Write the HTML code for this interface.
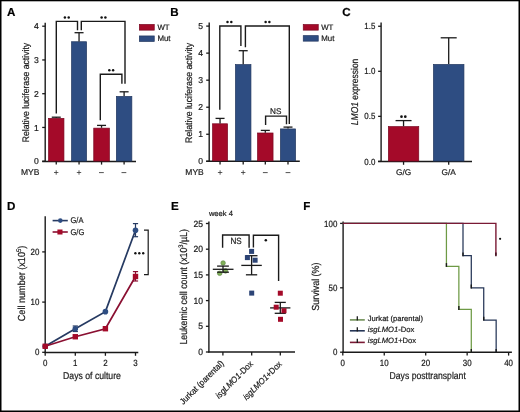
<!DOCTYPE html>
<html><head><meta charset="utf-8"><style>
html,body{margin:0;padding:0;background:#fff;width:520px;height:412px;overflow:hidden}
svg{display:block;will-change:transform}
text{font-family:"Liberation Sans",sans-serif;fill:#1a1a1a;stroke:#1a1a1a;stroke-width:0.2px;text-rendering:geometricPrecision}
</style></head><body>
<svg width="520" height="412" viewBox="0 0 520 412">
<rect width="520" height="412" fill="#fff"/>
<rect x="0.00" y="0.00" width="1.50" height="412.00" fill="#000"/>
<rect x="0.00" y="0.00" width="520.00" height="1.30" fill="#000"/>
<rect x="518.50" y="0.00" width="1.50" height="412.00" fill="#000"/>
<rect x="0.00" y="410.50" width="520.00" height="1.50" fill="#000"/>
<text x="7.10" y="15.60" font-size="11.6" text-anchor="start" font-weight="bold" style="fill:#000;stroke:#000">A</text>
<text x="170.30" y="15.60" font-size="11.6" text-anchor="start" font-weight="bold" style="fill:#000;stroke:#000">B</text>
<text x="342.30" y="15.60" font-size="11.6" text-anchor="start" font-weight="bold" style="fill:#000;stroke:#000">C</text>
<text x="7.10" y="210.30" font-size="11.6" text-anchor="start" font-weight="bold" style="fill:#000;stroke:#000">D</text>
<text x="171.00" y="210.30" font-size="11.6" text-anchor="start" font-weight="bold" style="fill:#000;stroke:#000">E</text>
<text x="303.30" y="210.30" font-size="11.6" text-anchor="start" font-weight="bold" style="fill:#000;stroke:#000">F</text>
<line x1="45.20" y1="22.80" x2="45.20" y2="162.00" stroke="#1a1a1a" stroke-width="1.4"/>
<line x1="42.20" y1="161.20" x2="45.20" y2="161.20" stroke="#1a1a1a" stroke-width="1.3"/>
<text x="38.90" y="164.30" font-size="8.6" text-anchor="end" >0</text>
<line x1="42.20" y1="127.45" x2="45.20" y2="127.45" stroke="#1a1a1a" stroke-width="1.3"/>
<text x="38.90" y="130.55" font-size="8.6" text-anchor="end" >1</text>
<line x1="42.20" y1="93.70" x2="45.20" y2="93.70" stroke="#1a1a1a" stroke-width="1.3"/>
<text x="38.90" y="96.80" font-size="8.6" text-anchor="end" >2</text>
<line x1="42.20" y1="59.95" x2="45.20" y2="59.95" stroke="#1a1a1a" stroke-width="1.3"/>
<text x="38.90" y="63.05" font-size="8.6" text-anchor="end" >3</text>
<line x1="42.20" y1="26.20" x2="45.20" y2="26.20" stroke="#1a1a1a" stroke-width="1.3"/>
<text x="38.90" y="29.30" font-size="8.6" text-anchor="end" >4</text>
<line x1="42.20" y1="161.40" x2="136.00" y2="161.40" stroke="#1a1a1a" stroke-width="1.5"/>
<rect x="48.55" y="118.35" width="15.40" height="42.70" fill="#a40a29" stroke="#7a0822" stroke-width="0.7"/>
<line x1="56.25" y1="117.20" x2="56.25" y2="118.00" stroke="#1a1a1a" stroke-width="1.3"/>
<line x1="51.75" y1="117.20" x2="60.75" y2="117.20" stroke="#1a1a1a" stroke-width="1.3"/>
<line x1="56.25" y1="161.40" x2="56.25" y2="164.60" stroke="#1a1a1a" stroke-width="1.3"/>
<rect x="71.55" y="41.74" width="15.00" height="119.31" fill="#2e4d82" stroke="#22375f" stroke-width="0.7"/>
<line x1="79.05" y1="32.70" x2="79.05" y2="41.39" stroke="#1a1a1a" stroke-width="1.3"/>
<line x1="74.55" y1="32.70" x2="83.55" y2="32.70" stroke="#1a1a1a" stroke-width="1.3"/>
<line x1="79.05" y1="161.40" x2="79.05" y2="164.60" stroke="#1a1a1a" stroke-width="1.3"/>
<rect x="93.75" y="128.14" width="15.60" height="32.91" fill="#a40a29" stroke="#7a0822" stroke-width="0.7"/>
<line x1="101.55" y1="125.40" x2="101.55" y2="127.79" stroke="#1a1a1a" stroke-width="1.3"/>
<line x1="97.05" y1="125.40" x2="106.05" y2="125.40" stroke="#1a1a1a" stroke-width="1.3"/>
<line x1="101.55" y1="161.40" x2="101.55" y2="164.60" stroke="#1a1a1a" stroke-width="1.3"/>
<rect x="116.35" y="96.41" width="15.50" height="64.64" fill="#2e4d82" stroke="#22375f" stroke-width="0.7"/>
<line x1="124.10" y1="91.80" x2="124.10" y2="96.06" stroke="#1a1a1a" stroke-width="1.3"/>
<line x1="119.60" y1="91.80" x2="128.60" y2="91.80" stroke="#1a1a1a" stroke-width="1.3"/>
<line x1="124.10" y1="161.40" x2="124.10" y2="164.60" stroke="#1a1a1a" stroke-width="1.3"/>
<polyline points="56.30,113.50 56.30,21.40 77.50,21.40 77.50,30.20" fill="none" stroke="#1a1a1a" stroke-width="1.4"/>
<polyline points="81.30,30.20 81.30,21.40 125.00,21.40 125.00,83.80" fill="none" stroke="#1a1a1a" stroke-width="1.4"/>
<polyline points="100.30,120.30 100.30,74.20 121.90,74.20 121.90,83.80" fill="none" stroke="#1a1a1a" stroke-width="1.4"/>
<circle cx="64.90" cy="17.4" r="1.25" fill="#111"/>
<circle cx="68.70" cy="17.4" r="1.25" fill="#111"/>
<circle cx="101.60" cy="17.4" r="1.25" fill="#111"/>
<circle cx="105.40" cy="17.4" r="1.25" fill="#111"/>
<circle cx="109.30" cy="70.2" r="1.25" fill="#111"/>
<circle cx="113.10" cy="70.2" r="1.25" fill="#111"/>
<text font-size="9.5" text-anchor="middle" transform="translate(28.7 92.6) rotate(-90)" textLength="99.5" lengthAdjust="spacingAndGlyphs">Relative luciferase activity</text>
<text x="21.00" y="175.00" font-size="8.5" text-anchor="start" >MYB</text>
<line x1="54.00" y1="172.50" x2="58.40" y2="172.50" stroke="#333" stroke-width="0.8"/>
<line x1="56.20" y1="170.30" x2="56.20" y2="174.70" stroke="#333" stroke-width="0.8"/>
<line x1="76.80" y1="172.50" x2="81.20" y2="172.50" stroke="#333" stroke-width="0.8"/>
<line x1="79.00" y1="170.30" x2="79.00" y2="174.70" stroke="#333" stroke-width="0.8"/>
<line x1="99.00" y1="172.60" x2="103.80" y2="172.60" stroke="#333" stroke-width="0.85"/>
<line x1="121.50" y1="172.60" x2="126.30" y2="172.60" stroke="#333" stroke-width="0.85"/>
<rect x="139.35" y="24.45" width="14.90" height="5.70" fill="#a40a29" stroke="#7a0822" stroke-width="0.7"/>
<rect x="139.35" y="35.95" width="14.90" height="5.50" fill="#2e4d82" stroke="#22375f" stroke-width="0.7"/>
<text x="157.40" y="29.90" font-size="7.8" text-anchor="start" >WT</text>
<text x="157.40" y="41.10" font-size="7.9" text-anchor="start" >Mut</text>
<line x1="209.20" y1="22.50" x2="209.20" y2="161.90" stroke="#1a1a1a" stroke-width="1.4"/>
<line x1="206.20" y1="161.30" x2="209.20" y2="161.30" stroke="#1a1a1a" stroke-width="1.3"/>
<text x="203.00" y="164.40" font-size="8.6" text-anchor="end" >0</text>
<line x1="206.20" y1="134.26" x2="209.20" y2="134.26" stroke="#1a1a1a" stroke-width="1.3"/>
<text x="203.00" y="137.36" font-size="8.6" text-anchor="end" >1</text>
<line x1="206.20" y1="107.22" x2="209.20" y2="107.22" stroke="#1a1a1a" stroke-width="1.3"/>
<text x="203.00" y="110.32" font-size="8.6" text-anchor="end" >2</text>
<line x1="206.20" y1="80.18" x2="209.20" y2="80.18" stroke="#1a1a1a" stroke-width="1.3"/>
<text x="203.00" y="83.28" font-size="8.6" text-anchor="end" >3</text>
<line x1="206.20" y1="53.14" x2="209.20" y2="53.14" stroke="#1a1a1a" stroke-width="1.3"/>
<text x="203.00" y="56.24" font-size="8.6" text-anchor="end" >4</text>
<line x1="206.20" y1="26.10" x2="209.20" y2="26.10" stroke="#1a1a1a" stroke-width="1.3"/>
<text x="203.00" y="29.20" font-size="8.6" text-anchor="end" >5</text>
<line x1="206.20" y1="161.30" x2="299.80" y2="161.30" stroke="#1a1a1a" stroke-width="1.5"/>
<rect x="212.55" y="123.79" width="15.00" height="37.06" fill="#a40a29" stroke="#7a0822" stroke-width="0.7"/>
<line x1="220.05" y1="118.40" x2="220.05" y2="123.44" stroke="#1a1a1a" stroke-width="1.3"/>
<line x1="215.55" y1="118.40" x2="224.55" y2="118.40" stroke="#1a1a1a" stroke-width="1.3"/>
<line x1="220.05" y1="161.20" x2="220.05" y2="164.50" stroke="#1a1a1a" stroke-width="1.3"/>
<rect x="235.45" y="64.58" width="15.50" height="96.27" fill="#2e4d82" stroke="#22375f" stroke-width="0.7"/>
<line x1="243.20" y1="50.70" x2="243.20" y2="64.23" stroke="#1a1a1a" stroke-width="1.3"/>
<line x1="238.70" y1="50.70" x2="247.70" y2="50.70" stroke="#1a1a1a" stroke-width="1.3"/>
<line x1="243.20" y1="161.20" x2="243.20" y2="164.50" stroke="#1a1a1a" stroke-width="1.3"/>
<rect x="257.55" y="132.99" width="15.50" height="27.86" fill="#a40a29" stroke="#7a0822" stroke-width="0.7"/>
<line x1="265.30" y1="130.40" x2="265.30" y2="132.64" stroke="#1a1a1a" stroke-width="1.3"/>
<line x1="260.80" y1="130.40" x2="269.80" y2="130.40" stroke="#1a1a1a" stroke-width="1.3"/>
<line x1="265.30" y1="161.20" x2="265.30" y2="164.50" stroke="#1a1a1a" stroke-width="1.3"/>
<rect x="280.45" y="128.93" width="15.10" height="31.92" fill="#2e4d82" stroke="#22375f" stroke-width="0.7"/>
<line x1="288.00" y1="127.10" x2="288.00" y2="128.58" stroke="#1a1a1a" stroke-width="1.3"/>
<line x1="283.50" y1="127.10" x2="292.50" y2="127.10" stroke="#1a1a1a" stroke-width="1.3"/>
<line x1="288.00" y1="161.20" x2="288.00" y2="164.50" stroke="#1a1a1a" stroke-width="1.3"/>
<polyline points="219.80,109.70 219.80,26.00 240.90,26.00 240.90,46.00" fill="none" stroke="#1a1a1a" stroke-width="1.4"/>
<polyline points="245.40,47.20 245.40,26.00 289.30,26.00 289.30,123.90" fill="none" stroke="#1a1a1a" stroke-width="1.4"/>
<polyline points="265.60,125.00 265.60,116.10 286.50,116.10 286.50,124.20" fill="none" stroke="#1a1a1a" stroke-width="1.4"/>
<circle cx="227.50" cy="22.1" r="1.25" fill="#111"/>
<circle cx="231.30" cy="22.1" r="1.25" fill="#111"/>
<circle cx="265.60" cy="22.1" r="1.25" fill="#111"/>
<circle cx="269.40" cy="22.1" r="1.25" fill="#111"/>
<text x="275.80" y="113.70" font-size="8.2" text-anchor="middle" >NS</text>
<text font-size="9.5" text-anchor="middle" transform="translate(192.1 92.9) rotate(-90)" textLength="100" lengthAdjust="spacingAndGlyphs">Relative luciferase activity</text>
<text x="185.30" y="175.20" font-size="8.5" text-anchor="start" >MYB</text>
<line x1="217.90" y1="172.50" x2="222.30" y2="172.50" stroke="#333" stroke-width="0.8"/>
<line x1="220.10" y1="170.30" x2="220.10" y2="174.70" stroke="#333" stroke-width="0.8"/>
<line x1="241.00" y1="172.50" x2="245.40" y2="172.50" stroke="#333" stroke-width="0.8"/>
<line x1="243.20" y1="170.30" x2="243.20" y2="174.70" stroke="#333" stroke-width="0.8"/>
<line x1="262.90" y1="172.60" x2="267.70" y2="172.60" stroke="#333" stroke-width="0.85"/>
<line x1="285.60" y1="172.60" x2="290.40" y2="172.60" stroke="#333" stroke-width="0.85"/>
<rect x="303.25" y="24.55" width="15.00" height="5.60" fill="#a40a29" stroke="#7a0822" stroke-width="0.7"/>
<rect x="303.25" y="35.65" width="15.00" height="5.50" fill="#2e4d82" stroke="#22375f" stroke-width="0.7"/>
<text x="321.20" y="29.90" font-size="7.8" text-anchor="start" >WT</text>
<text x="321.20" y="41.10" font-size="7.9" text-anchor="start" >Mut</text>
<line x1="381.10" y1="22.50" x2="381.10" y2="162.00" stroke="#1a1a1a" stroke-width="1.4"/>
<line x1="378.10" y1="161.40" x2="381.10" y2="161.40" stroke="#1a1a1a" stroke-width="1.3"/>
<text transform="translate(375.30 164.50) scale(0.9 1)" font-size="8.8" text-anchor="end" >0.0</text>
<line x1="378.10" y1="116.35" x2="381.10" y2="116.35" stroke="#1a1a1a" stroke-width="1.3"/>
<text transform="translate(375.30 119.45) scale(0.9 1)" font-size="8.8" text-anchor="end" >0.5</text>
<line x1="378.10" y1="71.30" x2="381.10" y2="71.30" stroke="#1a1a1a" stroke-width="1.3"/>
<text transform="translate(375.30 74.40) scale(0.9 1)" font-size="8.8" text-anchor="end" >1.0</text>
<line x1="378.10" y1="26.25" x2="381.10" y2="26.25" stroke="#1a1a1a" stroke-width="1.3"/>
<text transform="translate(375.30 29.35) scale(0.9 1)" font-size="8.8" text-anchor="end" >1.5</text>
<line x1="378.10" y1="161.40" x2="472.00" y2="161.40" stroke="#1a1a1a" stroke-width="1.5"/>
<rect x="388.35" y="126.61" width="30.40" height="34.44" fill="#a40a29" stroke="#7a0822" stroke-width="0.7"/>
<line x1="403.55" y1="120.60" x2="403.55" y2="126.26" stroke="#1a1a1a" stroke-width="1.3"/>
<line x1="395.55" y1="120.60" x2="411.55" y2="120.60" stroke="#1a1a1a" stroke-width="1.3"/>
<line x1="403.55" y1="161.40" x2="403.55" y2="164.80" stroke="#1a1a1a" stroke-width="1.3"/>
<rect x="433.45" y="64.44" width="30.50" height="96.61" fill="#2e4d82" stroke="#22375f" stroke-width="0.7"/>
<line x1="448.70" y1="37.80" x2="448.70" y2="64.09" stroke="#1a1a1a" stroke-width="1.3"/>
<line x1="440.70" y1="37.80" x2="456.70" y2="37.80" stroke="#1a1a1a" stroke-width="1.3"/>
<line x1="448.70" y1="161.40" x2="448.70" y2="164.80" stroke="#1a1a1a" stroke-width="1.3"/>
<circle cx="401.50" cy="116.7" r="1.35" fill="#111"/>
<circle cx="405.30" cy="116.7" r="1.35" fill="#111"/>
<text x="403.70" y="174.70" font-size="8.3" text-anchor="middle" >G/G</text>
<text x="448.70" y="174.70" font-size="8.3" text-anchor="middle" >G/A</text>
<text font-size="9.8" text-anchor="middle" transform="translate(357.9 91.9) rotate(-90)" textLength="66.5" lengthAdjust="spacingAndGlyphs"><tspan font-style="italic">LMO1</tspan> expression</text>
<line x1="45.20" y1="216.20" x2="45.20" y2="352.90" stroke="#1a1a1a" stroke-width="1.4"/>
<line x1="42.20" y1="352.30" x2="45.20" y2="352.30" stroke="#1a1a1a" stroke-width="1.3"/>
<text transform="translate(39.40 355.40) scale(0.88 1)" font-size="9" text-anchor="end" >0</text>
<line x1="42.20" y1="302.10" x2="45.20" y2="302.10" stroke="#1a1a1a" stroke-width="1.3"/>
<text transform="translate(39.40 305.20) scale(0.88 1)" font-size="9" text-anchor="end" >10</text>
<line x1="42.20" y1="251.90" x2="45.20" y2="251.90" stroke="#1a1a1a" stroke-width="1.3"/>
<text transform="translate(39.40 255.00) scale(0.88 1)" font-size="9" text-anchor="end" >20</text>
<line x1="44.50" y1="352.40" x2="138.30" y2="352.40" stroke="#1a1a1a" stroke-width="1.5"/>
<line x1="45.20" y1="352.40" x2="45.20" y2="355.80" stroke="#1a1a1a" stroke-width="1.3"/>
<text transform="translate(45.20 366.00) scale(0.88 1)" font-size="9" text-anchor="middle" >0</text>
<line x1="75.30" y1="352.40" x2="75.30" y2="355.80" stroke="#1a1a1a" stroke-width="1.3"/>
<text transform="translate(75.30 366.00) scale(0.88 1)" font-size="9" text-anchor="middle" >1</text>
<line x1="105.40" y1="352.40" x2="105.40" y2="355.80" stroke="#1a1a1a" stroke-width="1.3"/>
<text transform="translate(105.40 366.00) scale(0.88 1)" font-size="9" text-anchor="middle" >2</text>
<line x1="135.50" y1="352.40" x2="135.50" y2="355.80" stroke="#1a1a1a" stroke-width="1.3"/>
<text transform="translate(135.50 366.00) scale(0.88 1)" font-size="9" text-anchor="middle" >3</text>
<polyline points="45.20,346.28 75.30,328.71 105.40,311.64 135.50,230.31" fill="none" stroke="#263a62" stroke-width="1.7"/>
<line x1="135.50" y1="223.60" x2="135.50" y2="236.70" stroke="#263a62" stroke-width="1.2"/>
<line x1="132.90" y1="223.60" x2="138.10" y2="223.60" stroke="#263a62" stroke-width="1.2"/>
<line x1="132.90" y1="236.70" x2="138.10" y2="236.70" stroke="#263a62" stroke-width="1.2"/>
<line x1="75.30" y1="326.00" x2="75.30" y2="331.50" stroke="#263a62" stroke-width="1.2"/>
<line x1="72.70" y1="326.00" x2="77.90" y2="326.00" stroke="#263a62" stroke-width="1.2"/>
<line x1="72.70" y1="331.50" x2="77.90" y2="331.50" stroke="#263a62" stroke-width="1.2"/>
<circle cx="45.20" cy="346.28" r="2.8" fill="#2e4d82"/>
<circle cx="75.30" cy="328.71" r="2.8" fill="#2e4d82"/>
<circle cx="105.40" cy="311.64" r="2.8" fill="#2e4d82"/>
<circle cx="135.50" cy="230.31" r="2.8" fill="#2e4d82"/>
<polyline points="45.20,346.28 75.30,336.74 105.40,328.71 135.50,276.50" fill="none" stroke="#8a0f31" stroke-width="1.7"/>
<line x1="135.50" y1="271.60" x2="135.50" y2="281.00" stroke="#8a0f31" stroke-width="1.2"/>
<line x1="132.90" y1="271.60" x2="138.10" y2="271.60" stroke="#8a0f31" stroke-width="1.2"/>
<line x1="132.90" y1="281.00" x2="138.10" y2="281.00" stroke="#8a0f31" stroke-width="1.2"/>
<rect x="42.50" y="343.58" width="5.40" height="5.40" fill="#a40a29"/>
<rect x="72.60" y="334.04" width="5.40" height="5.40" fill="#a40a29"/>
<rect x="102.70" y="326.01" width="5.40" height="5.40" fill="#a40a29"/>
<rect x="132.80" y="273.80" width="5.40" height="5.40" fill="#a40a29"/>
<line x1="52.60" y1="220.60" x2="67.80" y2="220.60" stroke="#263a62" stroke-width="1.6"/>
<circle cx="60.3" cy="220.6" r="2.3" fill="#2e4d82"/>
<line x1="52.60" y1="232.00" x2="67.80" y2="232.00" stroke="#8a0f31" stroke-width="1.6"/>
<rect x="57.40" y="229.50" width="5.10" height="5.00" fill="#a40a29"/>
<text transform="translate(70.50 223.40) scale(0.9 1)" font-size="8.4" text-anchor="start" >G/A</text>
<text transform="translate(70.50 234.90) scale(0.9 1)" font-size="8.4" text-anchor="start" >G/G</text>
<polyline points="144.00,230.10 148.20,230.10 148.20,274.70 144.00,274.70" fill="none" stroke="#1a1a1a" stroke-width="1.2"/>
<circle cx="135.40" cy="253.3" r="1.2" fill="#111"/>
<circle cx="139.30" cy="253.3" r="1.2" fill="#111"/>
<circle cx="143.20" cy="253.3" r="1.2" fill="#111"/>
<text x="92.00" y="378.80" font-size="9.9" text-anchor="middle" textLength="57.8" lengthAdjust="spacingAndGlyphs">Days of culture</text>
<text font-size="10.2" transform="translate(25.2 321.2) rotate(-90)" textLength="75.5" lengthAdjust="spacingAndGlyphs">Cell number (x10<tspan font-size="6.6" dy="-3.8">5</tspan><tspan dy="3.8">)</tspan></text>
<line x1="208.90" y1="221.40" x2="208.90" y2="352.60" stroke="#1a1a1a" stroke-width="1.4"/>
<line x1="205.90" y1="352.00" x2="208.90" y2="352.00" stroke="#1a1a1a" stroke-width="1.3"/>
<text transform="translate(203.00 355.10) scale(0.95 1)" font-size="9" text-anchor="end" >0</text>
<line x1="205.90" y1="326.30" x2="208.90" y2="326.30" stroke="#1a1a1a" stroke-width="1.3"/>
<text transform="translate(203.00 329.40) scale(0.95 1)" font-size="9" text-anchor="end" >5</text>
<line x1="205.90" y1="300.60" x2="208.90" y2="300.60" stroke="#1a1a1a" stroke-width="1.3"/>
<text transform="translate(203.00 303.70) scale(0.95 1)" font-size="9" text-anchor="end" >10</text>
<line x1="205.90" y1="274.90" x2="208.90" y2="274.90" stroke="#1a1a1a" stroke-width="1.3"/>
<text transform="translate(203.00 278.00) scale(0.95 1)" font-size="9" text-anchor="end" >15</text>
<line x1="205.90" y1="249.20" x2="208.90" y2="249.20" stroke="#1a1a1a" stroke-width="1.3"/>
<text transform="translate(203.00 252.30) scale(0.95 1)" font-size="9" text-anchor="end" >20</text>
<line x1="205.90" y1="223.50" x2="208.90" y2="223.50" stroke="#1a1a1a" stroke-width="1.3"/>
<text transform="translate(203.00 226.60) scale(0.95 1)" font-size="9" text-anchor="end" >25</text>
<line x1="208.20" y1="352.00" x2="295.00" y2="352.00" stroke="#1a1a1a" stroke-width="1.5"/>
<line x1="222.90" y1="352.00" x2="222.90" y2="355.50" stroke="#1a1a1a" stroke-width="1.3"/>
<line x1="251.70" y1="352.00" x2="251.70" y2="355.50" stroke="#1a1a1a" stroke-width="1.3"/>
<line x1="280.30" y1="352.00" x2="280.30" y2="355.50" stroke="#1a1a1a" stroke-width="1.3"/>
<text x="208.90" y="215.80" font-size="7.6" text-anchor="start" >week 4</text>
<circle cx="223.1" cy="263" r="2.3" fill="#82b05a" stroke="#5a8540" stroke-width="0.6"/>
<circle cx="219.7" cy="273.3" r="2.3" fill="#82b05a" stroke="#5a8540" stroke-width="0.6"/>
<circle cx="225.5" cy="270.9" r="2.3" fill="#82b05a" stroke="#5a8540" stroke-width="0.6"/>
<line x1="212.80" y1="269.30" x2="233.50" y2="269.30" stroke="#1a1a1a" stroke-width="1.3"/>
<line x1="217.10" y1="266.10" x2="228.90" y2="266.10" stroke="#1a1a1a" stroke-width="1.3"/>
<line x1="217.10" y1="272.20" x2="228.90" y2="272.20" stroke="#1a1a1a" stroke-width="1.3"/>
<line x1="223.00" y1="266.10" x2="223.00" y2="272.20" stroke="#1a1a1a" stroke-width="1.3"/>
<line x1="251.60" y1="255.70" x2="251.60" y2="274.90" stroke="#1a1a1a" stroke-width="1.3"/>
<line x1="241.30" y1="265.40" x2="261.80" y2="265.40" stroke="#1a1a1a" stroke-width="1.3"/>
<line x1="245.80" y1="255.70" x2="257.50" y2="255.70" stroke="#1a1a1a" stroke-width="1.3"/>
<line x1="245.90" y1="274.80" x2="257.20" y2="274.80" stroke="#1a1a1a" stroke-width="1.3"/>
<rect x="249.10" y="248.90" width="5.00" height="5.00" fill="#2c4476"/>
<rect x="244.90" y="255.10" width="5.00" height="5.00" fill="#2c4476"/>
<rect x="252.60" y="257.70" width="5.00" height="5.00" fill="#2c4476"/>
<rect x="249.20" y="290.60" width="5.00" height="5.00" fill="#2c4476"/>
<line x1="280.30" y1="302.40" x2="280.30" y2="313.30" stroke="#1a1a1a" stroke-width="1.3"/>
<line x1="270.10" y1="307.90" x2="290.40" y2="307.90" stroke="#1a1a1a" stroke-width="1.3"/>
<line x1="274.70" y1="302.40" x2="285.80" y2="302.40" stroke="#1a1a1a" stroke-width="1.3"/>
<line x1="274.70" y1="313.30" x2="285.80" y2="313.30" stroke="#1a1a1a" stroke-width="1.3"/>
<rect x="277.80" y="290.70" width="5.00" height="5.00" fill="#a40a29"/>
<rect x="273.70" y="304.70" width="5.00" height="5.00" fill="#a40a29"/>
<rect x="281.50" y="308.20" width="5.00" height="5.00" fill="#a40a29"/>
<rect x="278.00" y="316.80" width="5.00" height="5.00" fill="#a40a29"/>
<polyline points="222.60,247.70 222.60,235.00 249.10,235.00 249.10,247.70" fill="none" stroke="#1a1a1a" stroke-width="1.4"/>
<polyline points="253.40,247.40 253.40,235.30 278.60,235.30 278.60,280.90" fill="none" stroke="#1a1a1a" stroke-width="1.4"/>
<text transform="translate(236.00 244.20) scale(0.9 1)" font-size="9" text-anchor="middle" >NS</text>
<circle cx="265.80" cy="240.2" r="1.25" fill="#111"/>
<text font-size="10.2" transform="translate(187.2 344.6) rotate(-90)" textLength="115.5" lengthAdjust="spacingAndGlyphs">Leukemic cell count (x10<tspan font-size="6.6" dy="-3.8">3</tspan><tspan dy="3.8">/µL)</tspan></text>
<text font-size="8.6" text-anchor="end" transform="translate(224.4 363.9) rotate(-45) scale(0.93 1)">Jurkat (parental)</text>
<text font-size="8.6" text-anchor="end" transform="translate(253.6 364.4) rotate(-45) scale(0.93 1)"><tspan font-style="italic">isgLMO1</tspan>-Dox</text>
<text font-size="8.6" text-anchor="end" transform="translate(282.4 364.6) rotate(-45) scale(0.93 1)"><tspan font-style="italic">isgLMO1</tspan>+Dox</text>
<line x1="343.10" y1="221.50" x2="343.10" y2="352.80" stroke="#1a1a1a" stroke-width="1.4"/>
<line x1="340.10" y1="352.20" x2="343.10" y2="352.20" stroke="#1a1a1a" stroke-width="1.3"/>
<text transform="translate(337.30 355.30) scale(0.88 1)" font-size="9" text-anchor="end" >0</text>
<line x1="340.10" y1="287.80" x2="343.10" y2="287.80" stroke="#1a1a1a" stroke-width="1.3"/>
<text transform="translate(337.30 290.90) scale(0.88 1)" font-size="9" text-anchor="end" >50</text>
<line x1="340.10" y1="223.40" x2="343.10" y2="223.40" stroke="#1a1a1a" stroke-width="1.3"/>
<text transform="translate(337.30 226.50) scale(0.88 1)" font-size="9" text-anchor="end" >100</text>
<line x1="342.40" y1="352.20" x2="511.90" y2="352.20" stroke="#1a1a1a" stroke-width="1.5"/>
<line x1="342.80" y1="352.20" x2="342.80" y2="355.60" stroke="#1a1a1a" stroke-width="1.3"/>
<text transform="translate(342.80 365.80) scale(0.88 1)" font-size="9" text-anchor="middle" >0</text>
<line x1="384.25" y1="352.20" x2="384.25" y2="355.60" stroke="#1a1a1a" stroke-width="1.3"/>
<text transform="translate(384.25 365.80) scale(0.88 1)" font-size="9" text-anchor="middle" >10</text>
<line x1="425.70" y1="352.20" x2="425.70" y2="355.60" stroke="#1a1a1a" stroke-width="1.3"/>
<text transform="translate(425.70 365.80) scale(0.88 1)" font-size="9" text-anchor="middle" >20</text>
<line x1="467.15" y1="352.20" x2="467.15" y2="355.60" stroke="#1a1a1a" stroke-width="1.3"/>
<text transform="translate(467.15 365.80) scale(0.88 1)" font-size="9" text-anchor="middle" >30</text>
<line x1="508.60" y1="352.20" x2="508.60" y2="355.60" stroke="#1a1a1a" stroke-width="1.3"/>
<text transform="translate(508.60 365.80) scale(0.88 1)" font-size="9" text-anchor="middle" >40</text>
<polyline points="342.80,223.40 446.43,223.40 446.43,223.40 446.43,223.40 446.43,266.29 458.86,266.29 458.86,266.29 458.86,266.29 458.86,309.31 471.29,309.31 471.29,309.31 471.29,309.31 471.29,352.20" fill="none" stroke="#6e9a45" stroke-width="1.25"/>
<polyline points="342.80,223.40 463.00,223.40 463.00,223.40 463.00,223.40 463.00,255.60 471.29,255.60 471.29,255.60 471.29,255.60 471.29,287.80 483.73,287.80 483.73,287.80 483.73,287.80 483.73,320.00 496.16,320.00 496.16,320.00 496.16,320.00 496.16,352.20" fill="none" stroke="#263657" stroke-width="1.25"/>
<polyline points="342.80,223.40 495.90,223.40 495.90,255.60" fill="none" stroke="#7a1a35" stroke-width="1.4"/>
<line x1="446.43" y1="263.09" x2="446.43" y2="266.89" stroke="#1a1a1a" stroke-width="1.4"/>
<line x1="458.86" y1="306.11" x2="458.86" y2="309.91" stroke="#1a1a1a" stroke-width="1.4"/>
<line x1="463.00" y1="252.40" x2="463.00" y2="256.20" stroke="#1a1a1a" stroke-width="1.4"/>
<line x1="471.29" y1="284.60" x2="471.29" y2="288.40" stroke="#1a1a1a" stroke-width="1.4"/>
<line x1="483.73" y1="316.80" x2="483.73" y2="320.60" stroke="#1a1a1a" stroke-width="1.4"/>
<line x1="471.29" y1="349.00" x2="471.29" y2="352.80" stroke="#1a1a1a" stroke-width="1.4"/>
<line x1="496.16" y1="349.00" x2="496.16" y2="352.80" stroke="#1a1a1a" stroke-width="1.4"/>
<line x1="495.90" y1="252.40" x2="495.90" y2="256.20" stroke="#3a0a18" stroke-width="1.4"/>
<circle cx="500.10" cy="238.8" r="1.1" fill="#111"/>
<line x1="349.90" y1="319.90" x2="364.80" y2="319.90" stroke="#6f8f55" stroke-width="1.6"/>
<line x1="357.30" y1="316.30" x2="357.30" y2="320.50" stroke="#1a1a1a" stroke-width="1.3"/>
<text x="367.80" y="321.20" font-size="7.6" text-anchor="start" >Jurkat (parental)</text>
<line x1="349.90" y1="330.80" x2="364.80" y2="330.80" stroke="#263657" stroke-width="1.6"/>
<line x1="357.30" y1="327.20" x2="357.30" y2="331.40" stroke="#1a1a1a" stroke-width="1.3"/>
<text x="367.80" y="331.80" font-size="7.6" text-anchor="start" ><tspan font-style="italic">isgLMO1</tspan>-Dox</text>
<line x1="349.90" y1="342.40" x2="364.80" y2="342.40" stroke="#7a1a35" stroke-width="1.6"/>
<line x1="357.30" y1="338.80" x2="357.30" y2="343.00" stroke="#1a1a1a" stroke-width="1.3"/>
<text x="367.80" y="343.00" font-size="7.6" text-anchor="start" ><tspan font-style="italic">isgLMO1</tspan>+Dox</text>
<text x="427.70" y="379.10" font-size="10.0" text-anchor="middle" textLength="76.2" lengthAdjust="spacingAndGlyphs">Days posttransplant</text>
<text font-size="10.2" text-anchor="middle" transform="translate(319.2 286.6) rotate(-90) scale(0.88 1)">Survival (%)</text>
</svg>
</body></html>
